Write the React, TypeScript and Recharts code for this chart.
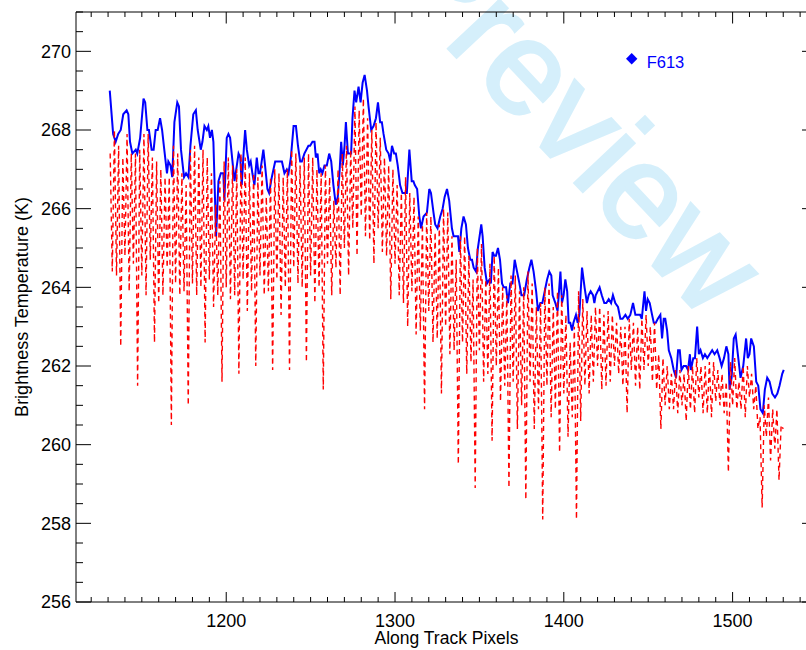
import React from 'react';
import { LineChart, Line, XAxis, YAxis, Legend } from 'recharts';

const FONT = '"Liberation Sans", Arial, Helvetica, sans-serif';

// axis ranges and labelled ticks
const xDomain: [number, number] = [1111, 1550];
const yDomain: [number, number] = [256, 271];
const xMajorTicks = [1200, 1300, 1400, 1500];
const yMajorTicks = [256, 258, 260, 262, 264, 266, 268, 270];

// F613 brightness temperature, [along track pixel, K]
const f613Points: [number, number][] = [
  [1131, 269.0], [1133, 267.9], [1134.5, 267.7], [1136, 267.9], [1137.5, 268.0], [1139, 268.4], [1141, 268.5], [1142, 268.4],
  [1143, 267.7], [1144.4, 267.4], [1146.4, 267.5], [1147.3, 267.4], [1149, 267.8], [1151, 268.8], [1152, 268.7], [1153.3, 268.0],
  [1154.2, 268.0], [1155.8, 267.5], [1157, 267.5], [1158.2, 268.0], [1159.4, 268.0], [1160.8, 268.3], [1162, 268.0], [1163.3, 267.5],
  [1164.9, 266.9], [1165.7, 267.2], [1167, 267.1], [1168, 266.8], [1169.3, 268.2], [1171, 268.7], [1172, 268.6], [1173.2, 267.5],
  [1175, 266.8], [1176.2, 266.9], [1177.6, 266.8], [1178.8, 267.6], [1180.5, 268.4], [1182, 268.5], [1183.1, 268.0], [1184.9, 267.5],
  [1185.9, 267.7], [1187.1, 268.1], [1188.5, 268.0], [1189.4, 268.1], [1190.4, 267.8], [1191.5, 268.0], [1192.4, 267.7], [1194, 265.3],
  [1195.4, 266.7], [1196.8, 266.9], [1198.3, 266.9], [1198.9, 266.2], [1200.3, 267.8], [1201.3, 267.9], [1202.3, 267.8], [1203.7, 267.2],
  [1204.9, 266.7], [1206.3, 267.1], [1207.3, 267.4], [1208.3, 267.3], [1209.2, 266.6], [1210.4, 267.5], [1211.2, 268.0], [1212.2, 267.5],
  [1213.6, 267.1], [1214.5, 267.2], [1215.5, 266.9], [1216.7, 266.6], [1218.1, 267.3], [1219.1, 266.9], [1220, 266.9], [1222, 267.5],
  [1223, 267.1], [1224.4, 266.5], [1225.4, 266.4], [1227, 266.8], [1229, 267.2], [1230.6, 267.2], [1232, 267.2], [1233, 267.2],
  [1234.5, 266.9], [1235.9, 267.0], [1236.9, 266.9], [1238.3, 267.3], [1239.9, 268.1], [1241.3, 268.1], [1242.5, 267.6], [1243.8, 267.2],
  [1244.8, 267.2], [1246.3, 267.4], [1248.7, 267.6], [1249.7, 267.6], [1251.1, 267.7], [1252.3, 267.7], [1253.1, 267.3], [1254.1, 267.4],
  [1255.1, 266.9], [1256, 267.0], [1257, 266.9], [1258.2, 267.1], [1259.6, 267.1], [1261, 267.4], [1262.2, 267.2], [1263.5, 266.6],
  [1264.9, 266.1], [1266.1, 266.3], [1267.1, 266.9], [1268.1, 267.7], [1269.1, 267.1], [1270.1, 267.6], [1270.9, 268.2], [1272.1, 267.4],
  [1272.9, 267.4], [1274, 267.4], [1274.8, 268.3], [1276, 269.0], [1277, 268.7], [1278.4, 269.1], [1279.6, 268.7], [1280.8, 269.2],
  [1282, 269.4], [1283.4, 269.0], [1284.3, 268.6], [1285.9, 268.0], [1287.3, 268.1], [1288.7, 268.3], [1289.9, 268.7], [1291.2, 268.2],
  [1292.2, 268.2], [1293.2, 267.9], [1294.8, 267.5], [1296.2, 267.4], [1297.2, 267.2], [1298.2, 267.6], [1299.5, 267.4], [1300.5, 267.4],
  [1301.6, 267.1], [1303, 266.6], [1304.4, 266.4], [1305.6, 266.4], [1307, 266.4], [1308.5, 267.5], [1309.9, 266.7], [1310.9, 266.7],
  [1311.7, 266.6], [1313.1, 266.5], [1314.4, 265.8], [1315.4, 265.5], [1316.9, 265.8], [1318.9, 265.9], [1320.3, 266.5], [1321.3, 266.4],
  [1322.8, 265.9], [1323.8, 265.6], [1325.2, 265.5], [1326.8, 265.8], [1328.2, 266.0], [1329.4, 266.3], [1330.8, 266.5], [1332.1, 266.2],
  [1333.7, 265.5], [1334.7, 265.3], [1336.1, 265.3], [1337.3, 265.3], [1338.1, 264.9], [1339.3, 265.5], [1340.6, 265.8], [1342, 265.6],
  [1343.2, 265.0], [1344.6, 264.7], [1345.6, 264.7], [1346.6, 264.5], [1348, 264.4], [1349.1, 265.0], [1351.1, 265.6], [1351.9, 265.3],
  [1353.1, 264.5], [1354.5, 264.1], [1356, 264.2], [1356.8, 264.1], [1357.8, 264.9], [1358.8, 264.8], [1359.8, 264.8], [1361, 265.0],
  [1362.2, 264.7], [1363.4, 264.1], [1364.4, 264.0], [1365.8, 264.0], [1366.9, 263.6], [1368.3, 264.1], [1369.6, 264.1], [1370.9, 264.7],
  [1372.3, 264.4], [1373.7, 264.1], [1374.9, 263.8], [1376.5, 263.8], [1378.1, 264.2], [1379.6, 264.5], [1380.8, 264.7], [1382.1, 264.4],
  [1383.6, 263.9], [1384.7, 263.4], [1386.1, 263.6], [1387.3, 263.6], [1388.7, 263.9], [1390.1, 264.2], [1391.4, 264.4], [1392.6, 264.3],
  [1393.4, 263.8], [1395, 263.6], [1396.3, 263.4], [1398, 264.4], [1398.9, 263.6], [1399.9, 263.8], [1400.9, 264.2], [1402, 263.9],
  [1402.9, 263.1], [1403.8, 263.1], [1404.9, 262.9], [1405.7, 263.1], [1407.2, 263.3], [1408.2, 263.1], [1409.2, 263.3], [1410.8, 264.5],
  [1412.3, 264.0], [1413.7, 263.6], [1414.7, 263.8], [1415.9, 263.9], [1417.3, 263.8], [1418.1, 263.6], [1418.9, 263.8], [1421.2, 264.0],
  [1422.5, 263.8], [1424, 263.6], [1425.2, 263.6], [1426.6, 263.7], [1428, 263.6], [1429.1, 263.8], [1430.5, 263.6], [1432.1, 263.5],
  [1433.5, 263.2], [1434.8, 263.2], [1436.5, 263.3], [1437.9, 263.2], [1439.4, 263.3], [1441, 263.6], [1442.4, 263.3], [1443.8, 263.3],
  [1445.2, 263.3], [1446.2, 263.2], [1447.8, 263.9], [1448.7, 263.4], [1449.7, 263.7], [1450.9, 263.6], [1452.3, 263.3], [1453.3, 263.1],
  [1454.5, 263.1], [1455.7, 263.2], [1457.2, 263.3], [1458.2, 262.7], [1459.2, 263.2], [1460.1, 263.2], [1461.2, 262.9], [1462.2, 262.4],
  [1463.7, 262.2], [1465.1, 261.9], [1466.5, 261.7], [1467.7, 262.4], [1468.7, 262.4], [1469.7, 261.9], [1471, 262.0], [1472.4, 262.0],
  [1473.6, 261.9], [1474.7, 262.3], [1475.3, 261.9], [1476.7, 262.2], [1477.7, 262.2], [1479, 263.0], [1480, 262.3], [1481, 262.4],
  [1482.4, 262.2], [1483.6, 262.3], [1485, 262.2], [1486.4, 262.3], [1487.9, 262.4], [1489.3, 262.3], [1490.9, 262.4], [1492.3, 262.2],
  [1493.5, 262.0], [1494.9, 262.2], [1496.3, 262.5], [1497.5, 262.3], [1498.2, 261.4], [1499.4, 261.7], [1500.7, 262.7], [1501.8, 262.8],
  [1503.1, 262.3], [1504.7, 261.7], [1506.3, 262.0], [1508, 262.7], [1509, 262.2], [1510, 262.3], [1511, 262.7], [1512.6, 262.5],
  [1514, 261.6], [1515.2, 261.5], [1516.5, 260.9], [1517.9, 260.8], [1519.1, 261.4], [1520.5, 261.7], [1521.9, 261.6], [1523.5, 261.3],
  [1525.1, 261.2], [1526.5, 261.3], [1527.8, 261.5], [1529.4, 261.8], [1530.3, 261.9],
];

// second channel (dashed red), one reading every 1.25 pixels starting at 1131.25
const secondStart = 1131.25;
const secondStep = 1.25;
const secondValues: number[] = [
  267.4, 264.4, 268.0, 264.3, 267.6,
  262.5, 267.3, 264.8, 267.9, 263.9, 267.4, 264.6, 267.4,
  261.5, 267.5, 264.3, 267.9, 263.8, 267.9, 264.7, 267.3,
  262.6, 267.2, 263.6, 267.0, 263.8, 266.8, 264.5, 266.8,
  260.5, 267.6, 264.1, 267.4, 263.8, 266.9, 263.9, 266.6,
  261.0, 267.5, 264.1, 267.6, 263.8, 267.3, 264.0, 267.5,
  262.6, 267.3, 264.2, 266.9, 263.5, 266.1, 263.8, 266.7,
  261.6, 267.2, 264.0, 267.3, 263.7, 267.1, 263.8, 267.0,
  261.8, 267.4, 264.2, 267.3, 263.4, 266.9, 263.9, 266.9,
  262.0, 266.8, 264.3, 267.1, 263.8, 266.3, 263.9, 266.8,
  261.9, 267.0, 264.2, 266.9, 263.3, 266.8, 264.0, 267.0,
  261.9, 267.5, 264.5, 267.4, 264.1, 267.1, 264.0, 267.3,
  262.1, 267.4, 264.3, 267.3, 263.6, 267.0, 264.0, 266.9,
  261.4, 267.1, 264.6, 266.8, 263.8, 266.2, 264.5, 267.0,
  263.8, 267.4, 265.0, 267.6, 264.3, 267.5, 265.5, 268.6,
  264.8, 268.5, 265.8, 268.8, 265.3, 268.3, 265.2, 268.0,
  264.6, 268.2, 265.5, 267.8, 264.9, 267.3, 264.8, 267.1,
  263.7, 267.0, 264.6, 266.6, 263.8, 266.4, 263.6, 266.8,
  263.0, 266.4, 263.9, 266.3, 262.8, 265.8, 262.9, 265.6,
  260.9, 265.9, 263.4, 265.8, 262.6, 265.4, 262.7, 265.6,
  261.3, 266.0, 263.0, 265.9, 262.3, 265.3, 262.4, 264.7,
  259.5, 265.3, 262.6, 265.3, 261.8, 264.8, 262.1, 264.2,
  258.9, 265.0, 262.4, 265.1, 261.6, 264.2, 261.8, 264.6,
  260.1, 264.8, 262.0, 264.5, 261.1, 264.0, 261.5, 263.8,
  258.9, 264.3, 261.6, 264.3, 260.4, 263.9, 261.0, 264.0,
  258.6, 264.4, 261.6, 264.1, 260.4, 263.5, 260.9, 263.6,
  258.1, 264.0, 261.5, 264.1, 260.7, 263.5, 260.9, 263.9,
  259.8, 263.8, 261.3, 263.3, 260.2, 262.6, 260.7, 263.0,
  258.1, 263.9, 260.6, 263.7, 261.5, 263.4, 261.3, 263.3,
  261.6, 263.5, 262.0, 263.5, 261.4, 263.3, 261.5, 263.4,
  261.6, 263.3, 262.0, 263.1, 261.8, 263.0, 261.5, 263.0,
  260.8, 263.2, 261.9, 263.1, 261.5, 263.0, 261.4, 263.2,
  261.9, 263.3, 262.0, 263.0, 261.6, 263.1, 261.4, 262.3,
  260.4, 262.2, 261.0, 262.0, 260.9, 261.8, 260.9, 261.9,
  260.8, 261.9, 261.0, 261.8, 260.6, 262.0, 260.9, 262.0,
  260.8, 262.2, 261.2, 262.0, 260.8, 262.0, 260.8, 262.1,
  260.7, 262.1, 261.1, 261.9, 261.0, 261.8, 260.8, 261.6,
  259.3, 262.1, 261.0, 262.2, 260.9, 261.6, 260.9, 262.0,
  260.7, 262.0, 261.2, 261.8, 260.9, 261.5, 260.4, 260.7,
  258.4, 261.0, 260.2, 261.2, 259.6, 260.9, 259.9, 260.9,
  259.1, 260.5, 260.4,
];

const f613Data = f613Points.map(([x, v]) => ({ x, v }));
const secondData = secondValues.map((v, i) => ({ x: secondStart + i * secondStep, v }));

const xTicks: number[] = [];
for (let t = 1120; t <= 1550; t += 10) xTicks.push(t);
const yTicks: number[] = [];
for (let t = 256; t <= 271; t += 0.5) yTicks.push(t);

const isXMajor = (v: number) => xMajorTicks.includes(v);
const isYMajor = (v: number) => yMajorTicks.includes(v);

function BottomTick({ x, y, payload }: any) {
  const major = isXMajor(payload.value);
  return (
    <g>
      <line x1={x} x2={x} y1={y} y2={y - (major ? 10 : 5)} stroke="#000" strokeWidth={1} />
      {major && (
        <text x={x} y={y + 25} textAnchor="middle" fontSize={18} fontFamily={FONT} fill="#000">
          {payload.value}
        </text>
      )}
    </g>
  );
}

function TopTick({ x, y, payload }: any) {
  const major = isXMajor(payload.value);
  return <line x1={x} x2={x} y1={y} y2={y + (major ? 11.5 : 5)} stroke="#000" strokeWidth={1} />;
}

function LeftTick({ x, y, payload }: any) {
  const major = isYMajor(payload.value);
  return (
    <g>
      <line x1={x} x2={x + (major ? 15 : 7)} y1={y} y2={y} stroke="#000" strokeWidth={1} />
      {major && (
        <text x={x - 5} y={y + 6.4} textAnchor="end" fontSize={18} fontFamily={FONT} fill="#000">
          {payload.value}
        </text>
      )}
    </g>
  );
}

function RightTick({ x, y, payload }: any) {
  const major = isYMajor(payload.value);
  return <line x1={x} x2={x - (major ? 15 : 7)} y1={y} y2={y} stroke="#000" strokeWidth={1} />;
}

function XTitle({ viewBox }: any) {
  const cx = viewBox.x + viewBox.width / 2;
  return (
    <text x={cx} y={644} textAnchor="middle" fontSize={17.5} fontFamily={FONT} fill="#000">
      Along Track Pixels
    </text>
  );
}

function YTitle({ viewBox }: any) {
  const cy = viewBox.y + viewBox.height / 2;
  return (
    <text x={27.5} y={cy} transform={`rotate(-90 27.5 ${cy})`} textAnchor="middle" fontSize={18} fontFamily={FONT} fill="#000">
      Brightness Temperature (K)
    </text>
  );
}

function LegendBox() {
  return (
    <svg width={90} height={24} style={{ display: 'block' }}>
      <path d="M11.7 5 L17.4 10.7 L11.7 16.4 L6 10.7 Z" fill="#0000ff" />
      <text x={26.7} y={20.3} fontSize={16.5} fontFamily={FONT} fill="#0000ff">
        F613
      </text>
    </svg>
  );
}

export default function App() {
  return (
    <div style={{ position: 'absolute', left: 0, top: 0, width: 806, height: 650, overflow: 'hidden', background: '#fff' }}>
      <svg width={806} height={650} style={{ position: 'absolute', left: 0, top: 0 }}>
        <text
          x={577}
          y={118}
          transform="rotate(46.7 577 118)"
          textAnchor="middle"
          dominantBaseline="central"
          fontSize={133}
          fontFamily={FONT}
          fill="#d5effb"
          stroke="#d5effb"
          strokeWidth={3}
        >
          Preview
        </text>
      </svg>
      <div style={{ position: 'absolute', left: 0, top: 0 }}>
        <LineChart width={830} height={650} margin={{ top: 0, right: 0, bottom: 0, left: 0 }}>
          <XAxis
            xAxisId="bottom"
            dataKey="x"
            type="number"
            domain={xDomain}
            allowDataOverflow
            ticks={xTicks}
            interval={0}
            tick={BottomTick}
            tickLine={false}
            tickSize={0}
            tickMargin={0}
            height={48}
            axisLine={{ stroke: '#000', strokeWidth: 1 }}
            label={<XTitle />}
          />
          <XAxis
            xAxisId="top"
            orientation="top"
            dataKey="x"
            type="number"
            domain={xDomain}
            allowDataOverflow
            ticks={xTicks}
            interval={0}
            tick={TopTick}
            tickLine={false}
            tickSize={0}
            tickMargin={0}
            height={12}
            axisLine={{ stroke: '#000', strokeWidth: 1 }}
          />
          <YAxis
            yAxisId="left"
            type="number"
            domain={yDomain}
            allowDataOverflow
            ticks={yTicks}
            interval={0}
            tick={LeftTick}
            tickLine={false}
            tickSize={0}
            tickMargin={0}
            width={76}
            axisLine={{ stroke: '#000', strokeWidth: 1 }}
            label={<YTitle />}
          />
          <YAxis
            yAxisId="right"
            orientation="right"
            type="number"
            domain={yDomain}
            allowDataOverflow
            ticks={yTicks}
            interval={0}
            tick={RightTick}
            tickLine={false}
            tickSize={0}
            tickMargin={0}
            width={13}
            axisLine={{ stroke: '#000', strokeWidth: 1 }}
          />
          <Legend
            layout="horizontal"
            verticalAlign="middle"
            align="center"
            wrapperStyle={{ position: 'absolute', left: 620, top: 48, width: 90, height: 24 }}
            content={() => <LegendBox />}
          />
          <Line
            xAxisId="bottom"
            yAxisId="left"
            data={f613Data}
            dataKey="v"
            name="F613"
            type="linear"
            stroke="#0000ff"
            strokeWidth={2}
            dot={false}
            isAnimationActive={false}
          />
          <Line
            xAxisId="bottom"
            yAxisId="left"
            data={secondData}
            dataKey="v"
            name="second"
            type="linear"
            stroke="#ff0000"
            strokeWidth={1.4}
            strokeDasharray="5 4"
            dot={false}
            isAnimationActive={false}
          />
        </LineChart>
      </div>
    </div>
  );
}
